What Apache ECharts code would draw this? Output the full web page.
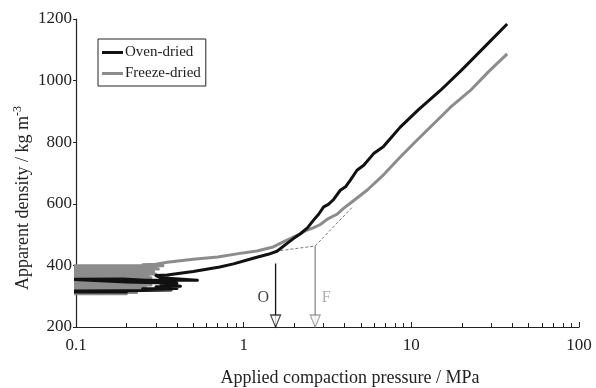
<!DOCTYPE html>
<html><head><meta charset="utf-8">
<script src="https://cdn.jsdelivr.net/npm/echarts@6/dist/echarts.min.js"></script>
<style>html,body{margin:0;padding:0;background:#fff}#c{width:596px;height:388px}</style>
</head><body><div id="c"></div>
<script>
// axis ticks
const xTicks = [0.1, 1, 10, 100];
const yTicks = [200, 400, 600, 800, 1000, 1200];
// Oven-dried: noisy low-pressure start, then compaction curve
const ovenNoise = [[0.09,314],[0.2,314],[0.09,317],[0.2,318],[0.37,320],[0.25,324],[0.4,325],[0.3,331],[0.42,332],[0.32,340],[0.4,342],[0.2,346],[0.09,355],[0.19,356],[0.26,352],[0.53,352],[0.32,360],[0.3,367]];
const ovenCurve = [[0.35,369],[0.5,380],[0.72,395],[0.87,405],[1.14,423],[1.4,436],[1.58,446],[1.8,470],[1.98,487],[2.17,502],[2.4,522],[2.61,547],[2.8,566],[3.0,590],[3.2,598],[3.44,614],[3.77,644],[4.05,655],[4.32,676],[4.74,709],[5.2,725],[5.96,763],[6.8,785],[7.5,812],[8.59,849],[11,905],[14.9,968],[20,1035],[28,1115],[37.3,1184]];
// Freeze-dried
const freezeNoise = [[0.09,308],[0.2,308],[0.09,312],[0.23,312],[0.09,316],[0.21,316],[0.09,320],[0.25,320],[0.09,324],[0.22,324],[0.09,328],[0.26,328],[0.09,332],[0.24,332],[0.09,336],[0.28,336],[0.09,340],[0.22,340],[0.09,344],[0.25,344],[0.09,348],[0.27,348],[0.09,352],[0.23,352],[0.09,356],[0.26,356],[0.09,360],[0.28,360],[0.09,364],[0.24,364],[0.09,368],[0.27,368],[0.09,372],[0.3,372],[0.09,376],[0.25,376],[0.09,380],[0.29,380],[0.09,384],[0.26,384],[0.09,388],[0.31,388],[0.09,392],[0.28,392],[0.09,396],[0.3,396],[0.09,399],[0.33,399],[0.25,402],[0.3,404]];
const freezeCurve = [[0.35,410],[0.5,420],[0.7,427],[0.95,439],[1.2,447],[1.5,460],[1.81,482],[2.1,498],[2.37,514],[2.6,522],[2.85,532],[3.2,552],[3.6,566],[3.94,585],[4.4,605],[5.44,644],[6.85,695],[8.59,752],[10.5,800],[13.6,860],[17,912],[22.5,968],[29,1030],[37.3,1087]];
// tangent construction and onset arrows
const tangentLines = [[1.55,446],[2.67,463],[4.5,592]];
const onsetO = [[1.55,406],[1.55,200]];
const onsetF = [[2.67,463],[2.67,200]];
const labelO = [[1.31,294]];
const labelF = [[3.11,294]];

const FONT = '"Liberation Serif", "DejaVu Serif", serif';
const BLACK = '#111111', GRAY = '#8c8c8c';
const arrowHead = 'path://M0,0 L10,0 L5,12 Z';

const chart = echarts.init(document.getElementById('c'), null, {renderer:'canvas'});
chart.setOption({
  animation: false,
  backgroundColor: '#fff',
  grid: {left: 76, right: 17, top: 19, bottom: 61, containLabel: false},
  legend: {
    data: ['Oven-dried', 'Freeze-dried'],
    orient: 'vertical', left: 98, top: 39,
    icon: 'rect', itemWidth: 21, itemHeight: 3, itemGap: 6,
    padding: [6, 5, 5, 4],
    borderColor: '#222', borderWidth: 1,
    textStyle: {fontFamily: FONT, fontSize: 15, color: '#222', padding: [0,0,0,-3]}
  },
  xAxis: {
    type: 'log', logBase: 10, min: xTicks[0], max: xTicks[xTicks.length-1],
    axisLine: {show: true, lineStyle: {color: '#222', width: 1.2}},
    axisTick: {show: true, inside: true, length: 5},
    minorTick: {show: true, splitNumber: 9, length: 4},
    splitLine: {show: false}, minorSplitLine: {show: false},
    axisLabel: {fontFamily: FONT, fontSize: 17, color: '#222', margin: 10,
      formatter: v => String(v)}
  },
  yAxis: {
    type: 'value', min: yTicks[0], max: yTicks[yTicks.length-1], interval: 200,
    axisLine: {show: true, lineStyle: {color: '#222', width: 1.2}},
    axisTick: {show: true, inside: false, length: 3, lineStyle: {color: '#222'}},
    splitLine: {show: false},
    axisLabel: {fontFamily: FONT, fontSize: 17, color: '#222', margin: 4, formatter: v => String(v)}
  },
  graphic: [
    {type: 'text', x: 350, y: 378, silent: true,
     style: {text: 'Applied compaction pressure / MPa', fontFamily: FONT, fontSize: 18,
             fill: '#222', align: 'center', verticalAlign: 'middle'}},
    {type: 'text', x: 22, y: 198, rotation: Math.PI/2, silent: true,
     style: {text: '{a|Apparent density / kg m}{s|-3}', align: 'center', verticalAlign: 'middle',
       rich: {a: {fontFamily: FONT, fontSize: 18, fill: '#222', verticalAlign: 'bottom'},
              s: {fontFamily: FONT, fontSize: 12, fill: '#222', verticalAlign: 'top', padding: [0,0,8,0]}}}}
  ],
  series: [
    {name: 'tangent', type: 'line', data: tangentLines, symbol: 'none', z: 1,
     lineStyle: {color: '#777', width: 1, type: [3, 2]}},
    {name: 'Freeze-dried', type: 'line', data: freezeNoise.concat(freezeCurve), symbol: 'none', clip: true, z: 2,
     itemStyle: {color: GRAY}, lineStyle: {color: GRAY, width: 3, join: 'round'}},
    {name: 'Oven-dried', type: 'line', data: ovenNoise.concat(ovenCurve), symbol: 'none', clip: true, z: 3,
     itemStyle: {color: BLACK}, lineStyle: {color: BLACK, width: 3, join: 'round'}},
    {name: 'O arrow', type: 'line', data: onsetO, symbol: 'none', z: 4,
     lineStyle: {color: BLACK, width: 1.3}},
    {name: 'F arrow', type: 'line', data: onsetF, symbol: 'none', z: 4,
     lineStyle: {color: GRAY, width: 1.3}},
    {name: 'heads', type: 'scatter', z: 5, symbol: arrowHead, symbolSize: [10, 12], symbolOffset: [0, -6],
     data: [
       {value: onsetO[1], itemStyle: {color: '#fff', borderColor: BLACK, borderWidth: 1.2}},
       {value: onsetF[1], itemStyle: {color: '#fff', borderColor: GRAY, borderWidth: 1.2}}
     ]},
    {name: 'labO', type: 'scatter', symbolSize: 0, data: labelO, z: 5,
     label: {show: true, position: 'inside', formatter: 'O', fontFamily: FONT, fontSize: 16, color: BLACK}},
    {name: 'labF', type: 'scatter', symbolSize: 0, data: labelF, z: 5,
     label: {show: true, position: 'inside', formatter: 'F', fontFamily: FONT, fontSize: 16, color: '#999'}}
  ]
});
</script></body></html>
